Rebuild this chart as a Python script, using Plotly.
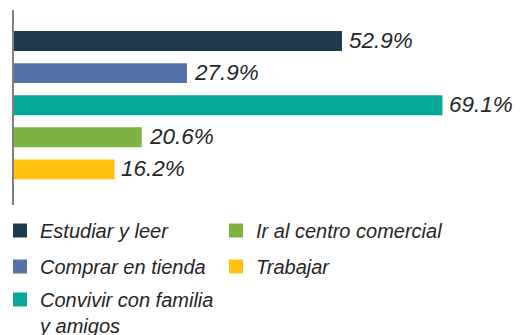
import plotly.graph_objects as go

# Activity shares (percent), in display order top to bottom
categories = [
    "Estudiar y leer",
    "Comprar en tienda",
    "Convivir con familia y amigos",
    "Ir al centro comercial",
    "Trabajar",
]
legend_names = [
    "Estudiar y leer",
    "Comprar en tienda",
    "Convivir con familia<br>y amigos",
    "Ir al centro comercial",
    "Trabajar",
]
values = [52.9, 27.9, 69.1, 20.6, 16.2]
colors = ["#1e3a4f", "#5673a9", "#05a899", "#7cb342", "#ffc20e"]
legend_slot = ["legend", "legend", "legend3", "legend2", "legend2"]

W, H = 521, 335
FONT = "Liberation Sans"
TEXT = "#262626"

fig = go.Figure()

fig.add_trace(go.Bar(
    x=values,
    y=categories,
    orientation="h",
    marker=dict(color=colors, line=dict(width=0)),
    width=0.62,
    showlegend=False,
    hoverinfo="skip",
))

# Legend swatches
for name, col, slot, cat in zip(legend_names, colors, legend_slot, categories):
    fig.add_trace(go.Scatter(
        x=[None], y=[None],
        mode="markers",
        marker=dict(symbol="square", size=14, color=col),
        name=name,
        legend=slot,
        legendgroup=cat,
        showlegend=True,
    ))

# Value labels beside each bar
for cat, v in zip(categories, values):
    fig.add_annotation(
        x=v, y=cat, xref="x", yref="y",
        text=f"{v:.1f}%",
        showarrow=False,
        xanchor="left", yanchor="middle",
        xshift=5, yshift=1,
        font=dict(family=FONT, size=22.5, color=TEXT, style="italic"),
    )

legend_common = dict(
    xref="container", yref="container",
    xanchor="left", yanchor="top",
    orientation="v",
    bgcolor="rgba(0,0,0,0)",
    borderwidth=0,
    font=dict(family=FONT, size=20, color=TEXT, style="italic"),
    valign="top",
    traceorder="grouped",
    tracegroupgap=7,
    itemclick=False, itemdoubleclick=False,
)

fig.update_layout(
    width=W, height=H,
    margin=dict(l=14, r=11, t=10, b=130, autoexpand=False),
    paper_bgcolor="white",
    plot_bgcolor="white",
    bargap=0.38,
    xaxis=dict(
        range=[0, 80],
        showticklabels=False, showgrid=False, zeroline=False,
        showline=False, ticks="",
    ),
    yaxis=dict(
        type="category",
        categoryorder="array",
        categoryarray=categories,
        range=[5.11, -0.966],
        showticklabels=False, showgrid=False, zeroline=False,
        showline=True, linecolor="#808080", linewidth=2, ticks="",
    ),
    legend=dict(x=0, y=1 - 211 / H, **legend_common),
    legend2=dict(x=216 / W, y=1 - 211 / H, **legend_common),
    legend3=dict(x=0, y=1 - 280 / H, **legend_common),
)

fig.write_html("out.html")
